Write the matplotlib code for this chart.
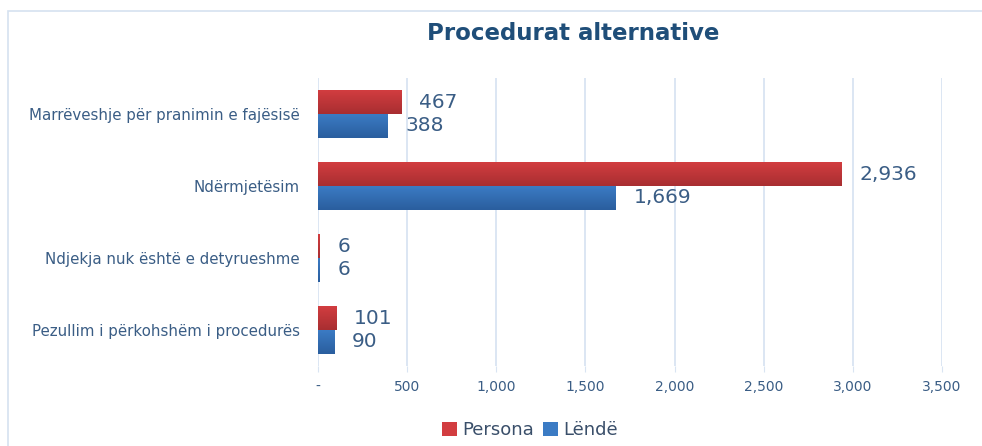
import numpy as np
import matplotlib.pyplot as plt
from matplotlib.patches import Rectangle
from matplotlib.colors import LinearSegmentedColormap
from matplotlib.ticker import FuncFormatter


categories = [
    "Marrëveshje për pranimin e fajësisë",
    "Ndërmjetësim",
    "Ndjekja nuk është e detyrueshme",
    "Pezullim i përkohshëm i procedurës",
]
persona = [467, 2936, 6, 101]
lende = [388, 1669, 6, 90]

TEXT_BLUE = "#3A5D85"
RED = ("#D23D40", "#A82E31")
BLUE = ("#3B7BC4", "#2A5E9E")


def _fmt(v, pos=None):
    if v == 0:
        return "-"
    return f"{v:,.0f}"


def _shade(ax, bars, colors):
    # vertical gradient inside each bar, light on top
    cmap = LinearSegmentedColormap.from_list("g", list(colors))
    grad = np.linspace(0, 1, 64).reshape(-1, 1)
    for b in bars:
        x0, y0 = b.get_x(), b.get_y()
        w, hh = b.get_width(), b.get_height()
        im = ax.imshow(grad, cmap=cmap, aspect="auto", zorder=3,
                       extent=(x0, x0 + w, y0 + hh, y0), origin="upper")
        im.set_clip_path(b)


fig = plt.figure(figsize=(9.82, 4.46), dpi=100)
ax = fig.add_axes([318 / 982, 1 - 366 / 446, (942 - 318) / 982, (366 - 78) / 446])

# outer chart border
fig.patches.append(Rectangle((8 / 982, -0.01), 1.0, 1 - 11 / 446 + 0.01,
                             transform=fig.transFigure, fill=False,
                             edgecolor="#D5E2F0", linewidth=1.2))

y = np.arange(len(categories))
h = 0.33
b1 = ax.barh(y - h / 2, persona, height=h, color=RED[0], label="Persona", zorder=3)
b2 = ax.barh(y + h / 2, lende, height=h, color=BLUE[0], label="Lëndë", zorder=3)
_shade(ax, b1, RED)
_shade(ax, b2, BLUE)

for yi, p, l in zip(y, persona, lende):
    ax.annotate(_fmt(p), (p, yi - h / 2), xytext=(13, 0), textcoords="offset points",
                va="center", ha="left", fontsize=14.5, color=TEXT_BLUE)
    ax.annotate(_fmt(l), (l, yi + h / 2), xytext=(13, 0), textcoords="offset points",
                va="center", ha="left", fontsize=14.5, color=TEXT_BLUE)

ax.set_xlim(0, 3500)
ax.set_ylim(len(categories) - 0.5, -0.5)
ax.set_xticks(np.arange(0, 3501, 500))
ax.xaxis.set_major_formatter(FuncFormatter(_fmt))
ax.set_yticks(y)
ax.set_yticklabels(categories)
ax.tick_params(axis="y", length=0, pad=13, labelsize=10.8, labelcolor=TEXT_BLUE)
ax.tick_params(axis="x", length=4, color="#D9E4F2", pad=6, labelsize=10, labelcolor=TEXT_BLUE)
ax.grid(axis="x", color="#D9E4F2", linewidth=1.3, zorder=0)
for s in ax.spines.values():
    s.set_visible(False)

fig.text(573 / 982, 1 - 33 / 446, "Procedurat alternative", ha="center", va="center",
         fontsize=16.5, fontweight="bold", color="#1F4E79")

fig.legend(loc="center", bbox_to_anchor=(530 / 982, 1 - 430 / 446), ncol=2,
           frameon=False, fontsize=13, handlelength=0.8, handleheight=0.8,
           handletextpad=0.3, columnspacing=0.5, labelcolor="#3A4F6A")

fig.savefig("out.png", dpi=100)
